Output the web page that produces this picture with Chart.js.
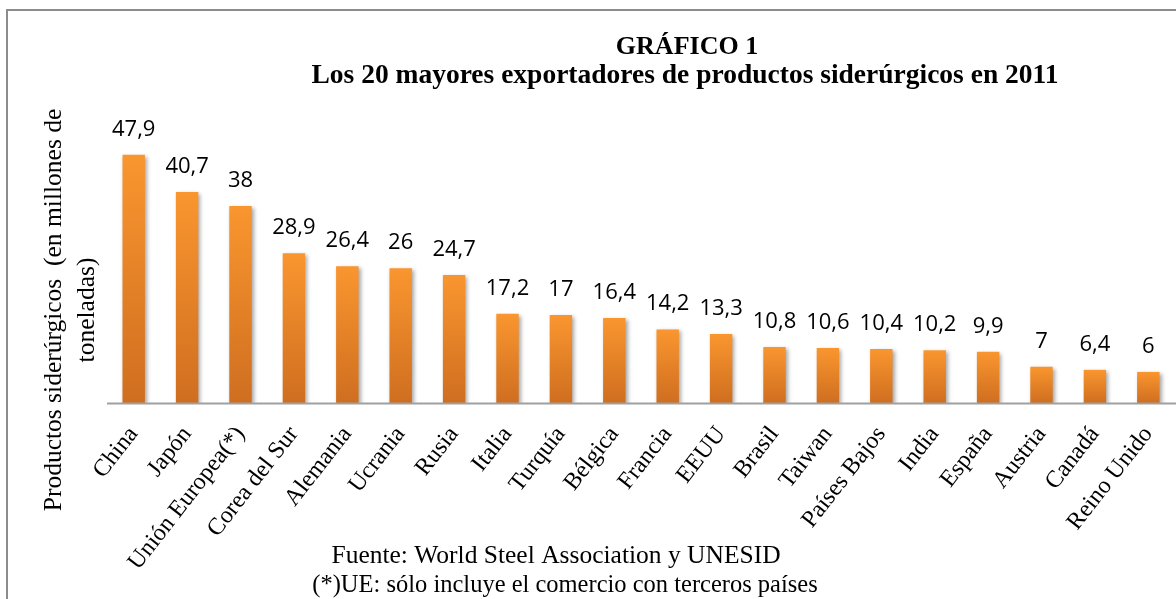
<!DOCTYPE html>
<html><head><meta charset="utf-8">
<script src="https://cdn.jsdelivr.net/npm/chart.js@4.4.1/dist/chart.umd.min.js"></script>
<style>html,body{margin:0;padding:0;background:#fff;overflow:hidden}#wrap{width:1176px;height:599px;position:relative}</style>
</head><body><div id="wrap"><canvas id="c" width="1176" height="599"></canvas></div>
<script>
const categories = ['China','Japón','Unión Europea(*)','Corea del Sur','Alemania','Ucrania','Rusia','Italia','Turquía','Bélgica','Francia','EEUU','Brasil','Taiwan','Países Bajos','India','España','Austria','Canadá','Reino Unido'];
const values = [47.9,40.7,38,28.9,26.4,26,24.7,17.2,17,16.4,14.2,13.3,10.8,10.6,10.4,10.2,9.9,7,6.4,6];
const titleLines = ['GRÁFICO 1','Los 20 mayores exportadores de productos siderúrgicos en 2011'];
const yTitleLines = ['Productos siderúrgicos  (en millones de','toneladas)'];
const footerLines = ['Fuente: World Steel Association y UNESID','(*)UE: sólo incluye el comercio con terceros países'];
const yMin = 0, yMax = 60;

const SERIF = '"Liberation Serif", "Times New Roman", serif';
const fmt = v => String(v).replace('.', ',');

const decor = {
  id: 'decor',
  beforeDraw(chart) {
    const ctx = chart.ctx;
    ctx.save();
    ctx.strokeStyle = '#8c8c8c';
    ctx.lineWidth = 2;
    ctx.strokeRect(7, 10, 1400, 900);
    ctx.restore();
  },
  beforeDatasetsDraw(chart) {
    const ctx = chart.ctx;
    ctx.save();
    ctx.shadowColor = 'rgba(0,0,0,0.35)';
    ctx.shadowBlur = 4;
    ctx.shadowOffsetX = 2;
    ctx.shadowOffsetY = 2;
  },
  afterDatasetsDraw(chart) {
    const ctx = chart.ctx;
    ctx.restore();
    ctx.save();
    ctx.fillStyle = '#000';
    ctx.font = '22px "Open Sans", sans-serif';
    ctx.textAlign = 'center';
    ctx.textBaseline = 'alphabetic';
    const meta = chart.getDatasetMeta(0);
    meta.data.forEach((bar, i) => {
      ctx.fillText(fmt(values[i]), bar.x, bar.y - 19);
    });
    ctx.restore();
  },
  afterDraw(chart) {
    const ctx = chart.ctx;
    ctx.save();
    const x = chart.scales.x, y = chart.scales.y;
    const yb = Math.round(y.getPixelForValue(yMin)) + 0.5;
    ctx.strokeStyle = '#a0a0a0';
    ctx.lineWidth = 2;
    ctx.beginPath();
    ctx.moveTo(x.left, yb);
    ctx.lineTo(ctx.canvas.width, yb);
    ctx.stroke();
    ctx.fillStyle = '#000';
    ctx.textAlign = 'center';
    ctx.textBaseline = 'alphabetic';
    ctx.font = 'bold 26px ' + SERIF;
    ctx.fillText(titleLines[0], 687, 54);
    ctx.font = 'bold 27.5px ' + SERIF;
    ctx.fillText(titleLines[1], 685, 83);
    ctx.font = '25.5px ' + SERIF;
    ctx.fillText(footerLines[0], 556, 563);
    ctx.font = '24.5px ' + SERIF;
    ctx.fillText(footerLines[1], 565, 592);
    ctx.font = '25.5px ' + SERIF;
    ctx.translate(61, 310);
    ctx.rotate(-Math.PI / 2);
    ctx.fillText(yTitleLines[0], 0, 0);
    ctx.fillText(yTitleLines[1], 0, 33);
    ctx.restore();
  }
};

new Chart(document.getElementById('c'), {
  type: 'bar',
  data: {
    labels: categories,
    datasets: [{
      data: values,
      backgroundColor(c) {
        const chart = c.chart;
        const y = chart.scales.y;
        if (!y || c.raw === undefined) return '#F08A2C';
        const top = y.getPixelForValue(c.raw);
        const bot = y.getPixelForValue(0);
        if (!isFinite(top) || !isFinite(bot) || top === bot) return '#F08A2C';
        const g = chart.ctx.createLinearGradient(0, top, 0, bot);
        g.addColorStop(0, '#FA962F');
        g.addColorStop(1, '#CF6E20');
        return g;
      },
      borderWidth: 0,
      barPercentage: 0.42,
      categoryPercentage: 1
    }]
  },
  options: {
    responsive: false,
    animation: false,
    devicePixelRatio: 1,
    layout: { padding: { top: 92, left: 107, right: 1, bottom: 0 } },
    plugins: { legend: { display: false }, title: { display: false }, tooltip: { enabled: false } },
    scales: {
      x: {
        grid: { display: false, drawTicks: false },
        border: { display: false },
        ticks: {
          autoSkip: false, maxRotation: 52, minRotation: 52,
          color: '#000', padding: 18,
          font: { family: SERIF, size: 24 }
        },
        afterFit(s) { s.height = 196; s.paddingLeft = 0; s.paddingRight = 0; }
      },
      y: { display: false, min: yMin, max: yMax }
    }
  },
  plugins: [decor]
});
</script></body></html>
